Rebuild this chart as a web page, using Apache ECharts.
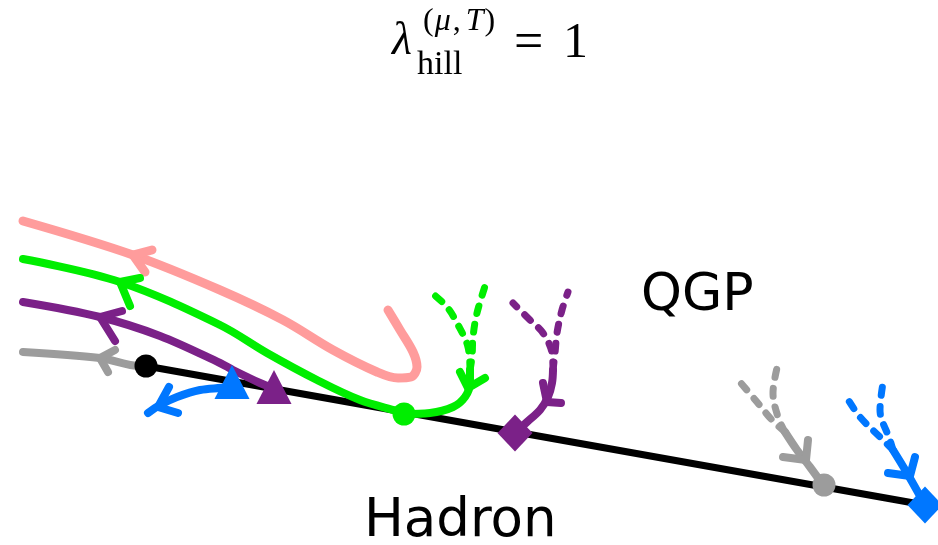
<!DOCTYPE html>
<html>
<head>
<meta charset="utf-8">
<script src="https://cdn.jsdelivr.net/npm/echarts@6/dist/echarts.min.js"></script>
<style>
  html, body { margin: 0; padding: 0; background: #fff; }
  #chart { width: 938px; height: 545px; }
</style>
</head>
<body>
<div id="chart"></div>
<script>
// Phase-diagram sketch: crossover line and flow trajectories in the (x, y) plane.
// Coordinates are in plot units; y grows downwards (axis is inverted).

const crossoverLine = [[146, 366], [925, 505]];

// Pink trajectory (turns back before reaching the line)
const pinkFlow = [[23, 221], [133, 255], [220, 290], [283, 320], [333, 350], [377, 372],
                  [398, 378], [411, 377], [417, 367], [413, 352], [400, 330], [388, 310]];
const pinkArrow = [[152, 250], [133, 255], [145, 272]];

// Green trajectories
const greenFlow = [[23, 259], [120, 282], [220, 325], [267, 353], [317, 380], [360, 400], [397, 411], [404, 413]];
const greenArrow = [[140, 278], [120, 282], [130, 306]];
const greenIn = [[404, 414], [430, 413], [453, 407], [465, 397], [470, 383], [470, 370]];
const greenInArrow = [[460, 372], [468, 388], [485, 378]];
const greenDashA = [[470, 370], [472, 357], [473, 337], [477, 313], [487, 280]];
const greenDashB = [[470, 370], [468, 347], [457, 323], [447, 307], [432, 293]];

// Purple trajectories
const purpleFlow = [[23, 302], [100, 317], [160, 336], [220, 363], [233, 370], [260, 383], [273, 388]];
const purpleArrow = [[122, 311], [100, 317], [115, 341]];
const purpleIn = [[515, 433], [527, 422], [540, 410], [548, 397], [552, 383], [553, 370]];
const purpleInArrow = [[543, 383], [547, 402], [561, 403]];
const purpleDashA = [[553, 370], [555, 353], [557, 333], [562, 310], [568, 292]];
const purpleDashB = [[553, 370], [552, 353], [543, 333], [530, 320], [513, 303]];

// Gray trajectories
const grayFlow = [[23, 352], [100, 358], [140, 366], [146, 366]];
const grayArrow = [[115, 350], [100, 358], [108, 372]];
const grayIn = [[823, 485], [810, 467], [797, 450], [785, 432]];
const grayInArrow = [[783, 457], [806, 460], [808, 440]];
const grayDashA = [[785, 432], [778, 417], [773, 393], [777, 368]];
const grayDashB = [[785, 432], [772, 420], [757, 402], [740, 382]];

// Blue trajectories
const blueFlow = [[232, 384], [227, 387], [200, 390], [177, 397], [160, 405], [148, 413]];
const blueArrow = [[169, 387], [158, 407], [178, 413]];
const blueIn = [[925, 505], [907, 473], [893, 450]];
const blueInArrow = [[888, 473], [910, 476], [915, 457]];
const blueDashA = [[893, 450], [890, 440], [880, 410], [883, 383]];
const blueDashB = [[893, 450], [880, 437], [860, 417], [847, 398]];

// Fixed points on the crossover line
const blackDot = [[146, 366]];
const greenDot = [[404, 414]];
const grayDot = [[824, 485]];
const blueTriangle = [[232, 382]];
const purpleTriangle = [[274, 387]];
const purpleDiamond = [[515, 433]];
const blueDiamond = [[925, 505]];

const PINK = '#ff9c9c';
const GREEN = '#00ee00';
const PURPLE = '#7b2188';
const GRAY = '#9c9c9c';
const BLUE = '#0077ff';

const W_LINE = 8;
const W_PINK = 9;
const W_DASH = 7;

function path(data, color, width, opts) {
  opts = opts || {};
  return {
    type: 'line',
    data: data,
    smooth: opts.smooth === undefined ? 0.35 : opts.smooth,
    showSymbol: false,
    symbol: 'none',
    silent: true,
    clip: false,
    z: opts.z || 3,
    lineStyle: {
      color: color,
      width: width,
      type: opts.dash || 'solid',
      cap: 'round',
      join: 'round'
    }
  };
}

function arrow(data, color, width) {
  return path(data, color, width, { smooth: false, z: 4 });
}

function dashed(data, color) {
  return path(data, color, W_DASH, { dash: [8, 11] });
}

function marker(data, color, symbol, size) {
  return {
    type: 'scatter',
    data: data,
    symbol: symbol,
    symbolSize: size,
    silent: true,
    clip: false,
    z: 6,
    itemStyle: { color: color, opacity: 1 }
  };
}

const chart = echarts.init(document.getElementById('chart'), null, { renderer: 'canvas' });

chart.setOption({
  animation: false,
  backgroundColor: '#ffffff',
  grid: { left: 0, right: 0, top: 0, bottom: 0 },
  xAxis: { type: 'value', min: 0, max: 938, show: false },
  yAxis: { type: 'value', min: 0, max: 545, inverse: true, show: false },
  series: [
    path(crossoverLine, '#000000', 7, { smooth: false, z: 2 }),

    path(pinkFlow, PINK, W_PINK),
    arrow(pinkArrow, PINK, W_PINK),

    path(greenFlow, GREEN, W_LINE),
    arrow(greenArrow, GREEN, W_LINE),
    path(greenIn, GREEN, W_LINE),
    arrow(greenInArrow, GREEN, W_LINE),
    dashed(greenDashA, GREEN),
    dashed(greenDashB, GREEN),

    path(purpleFlow, PURPLE, W_LINE),
    arrow(purpleArrow, PURPLE, W_LINE),
    path(purpleIn, PURPLE, W_LINE),
    arrow(purpleInArrow, PURPLE, W_LINE),
    dashed(purpleDashA, PURPLE),
    dashed(purpleDashB, PURPLE),

    path(grayFlow, GRAY, W_LINE),
    arrow(grayArrow, GRAY, W_LINE),
    path(grayIn, GRAY, W_LINE),
    arrow(grayInArrow, GRAY, W_LINE),
    dashed(grayDashA, GRAY),
    dashed(grayDashB, GRAY),

    path(blueFlow, BLUE, W_LINE),
    arrow(blueArrow, BLUE, W_LINE),
    path(blueIn, BLUE, W_LINE),
    arrow(blueInArrow, BLUE, W_LINE),
    dashed(blueDashA, BLUE),
    dashed(blueDashB, BLUE),

    marker(blackDot, '#000000', 'circle', 23),
    marker(greenDot, GREEN, 'circle', 23),
    marker(grayDot, GRAY, 'circle', 23),
    marker(blueTriangle, BLUE, 'triangle', [35, 34]),
    marker(purpleTriangle, PURPLE, 'triangle', [35, 34]),
    marker(purpleDiamond, PURPLE, 'diamond', [35, 37]),
    marker(blueDiamond, BLUE, 'diamond', [35, 37])
  ],
  graphic: [
    // Title: lambda_hill^(mu,T) = 1
    {
      type: 'text', left: 392, top: 19, silent: true,
      style: { text: 'λ', font: 'italic 46px "Liberation Serif"', fill: '#000' }
    },
    {
      type: 'text', left: 423, top: 6, silent: true,
      style: {
        text: '{u|(}{i|μ}{c|,}{i|T}{u|)}',
        fill: '#000',
        rich: {
          u: { fontFamily: 'Liberation Serif', fontSize: 32, fontStyle: 'normal', fill: '#000', padding: [0, 1, 0, 1] },
          c: { fontFamily: 'Liberation Serif', fontSize: 32, fontStyle: 'normal', fill: '#000', padding: [0, 5, 0, 2] },
          i: { fontFamily: 'Liberation Serif', fontSize: 32, fontStyle: 'italic', fill: '#000' }
        }
      }
    },
    {
      type: 'text', left: 417, top: 48, silent: true,
      style: { text: 'hill', font: '34px "Liberation Serif"', fill: '#000' }
    },
    {
      type: 'text', left: 514, top: 18, silent: true,
      style: { text: '=', font: '52px "Liberation Serif"', fill: '#000' }
    },
    {
      type: 'text', left: 563, top: 19, silent: true,
      style: { text: '1', font: '50px "Liberation Serif"', fill: '#000' }
    },
    // Phase labels
    {
      type: 'text', left: 641, top: 270, silent: true,
      style: { text: 'QGP', font: '52px "DejaVu Sans"', fill: '#000' }
    },
    {
      type: 'text', left: 364, top: 496, silent: true,
      style: { text: 'Hadron', font: '53px "DejaVu Sans"', fill: '#000' }
    }
  ]
});
</script>
</body>
</html>
